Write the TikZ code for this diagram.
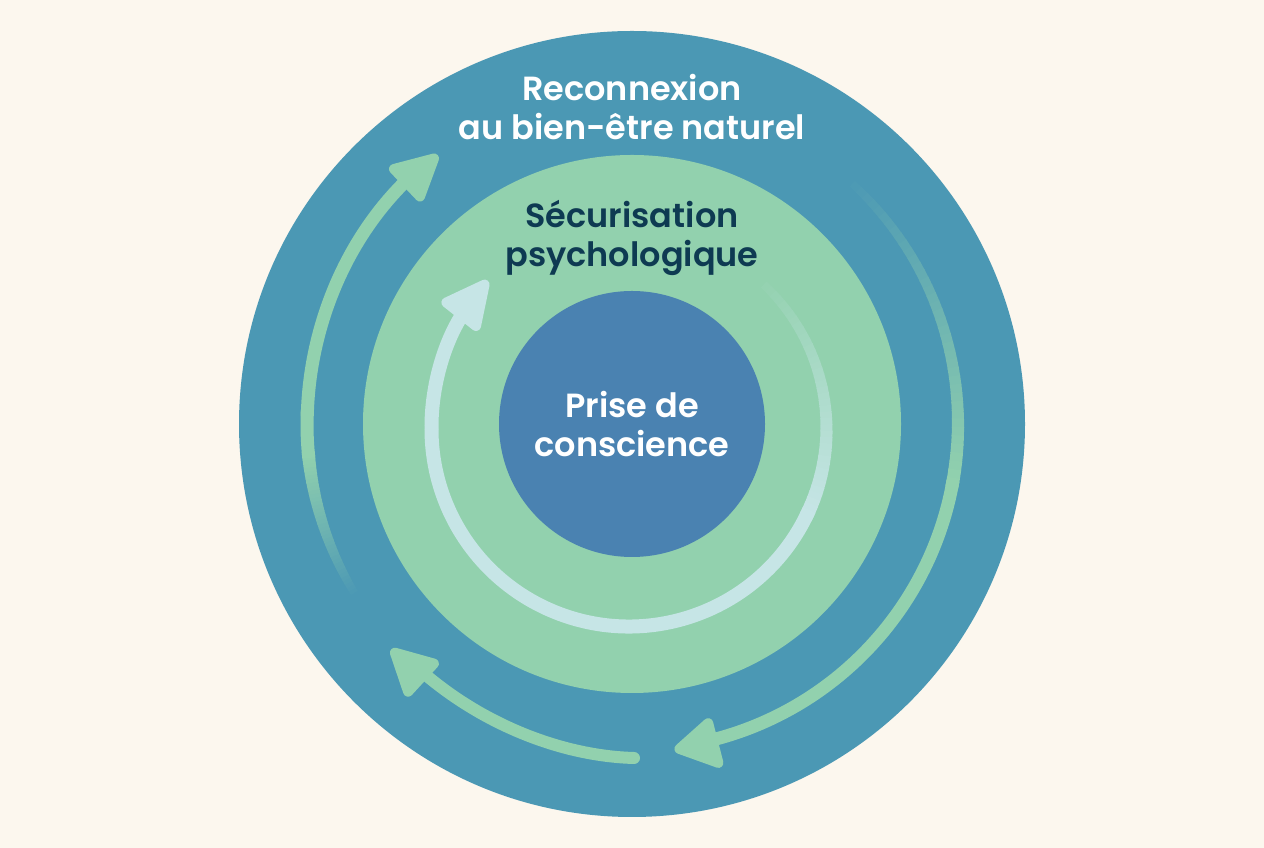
\documentclass[tikz,border=0pt]{standalone}
\usepackage{fontspec}
\setmainfont{Poppins}[BoldFont={Poppins SemiBold}]
\definecolor{bgc}{HTML}{FCF7EE}
\definecolor{outerc}{HTML}{4B98B4}
\definecolor{midc}{HTML}{92D1AE}
\definecolor{innerc}{HTML}{4A82B1}
\definecolor{lightc}{HTML}{C6E5E6}
\definecolor{darkc}{HTML}{0E3A52}
\tikzset{
  disc/.style={circle,minimum size=#1,inner sep=0pt,outer sep=0pt},
  label/.style={font=\bfseries\fontsize{33.5}{39}\selectfont,align=center,text=#1},
  headtip/.style={fill=#1,draw=#1,line width=10pt,line join=round},
}
% \fadearc{centre}{radius}{start}{delta}{width}{from colour}{to colour}{start pct}{end pct}
\newcommand{\fadearc}[9]{%
  \foreach \i in {0,...,39}{%
    \pgfmathsetmacro{\aa}{#3+(#4)*\i/40}%
    \pgfmathsetmacro{\dd}{(#4)/40*1.15}%
    \pgfmathsetmacro{\pp}{#8+(#9-#8)*\i/39}%
    \pgfmathsetmacro{\ww}{#5*(0.6+0.4*\i/39)}%
    \colorlet{segc}{#7!\pp!#6}%
    \draw[shift={(#1)},segc,line width=\ww pt,line cap=butt] (\aa:#2) arc[start angle=\aa,delta angle=\dd,radius=#2];
  }%
}
\begin{document}
\begin{tikzpicture}[x=1pt,y=1pt]
\useasboundingbox (0,0) rectangle (1264,848);
\fill[bgc] (0,0) rectangle (1264,848);
\node[disc=786pt,fill=outerc] (outer) at (632,424) {};
\node[disc=538pt,fill=midc] (mid) at (632,424) {};
\node[disc=266pt,fill=innerc] (inner) at (632,424) {};
\coordinate (co) at (632,424);
\coordinate (ci) at (629,419);
% outer left arc with arrow
\fadearc{co}{325}{212}{-27}{13}{outerc}{midc}{0}{100}
\draw[shift={(co)},midc,line width=13pt] (186:325) arc[start angle=186,delta angle=-8.5,radius=325];
\draw[midc,line width=13pt] (307.3,432) .. controls (309,515) and (342,606) .. (409,670);
\path[headtip=midc] (434,689.5) -- (394,679) -- (420,651.5) -- cycle;
% outer right arc with arrow
\fadearc{co}{326}{49}{-60}{13}{outerc}{midc}{0}{100}
\draw[shift={(co)},midc,line width=13pt] (-10:326) arc[start angle=-10,delta angle=-65,radius=326];
\path[headtip=midc] (679.4,99.1) -- (708.2,124.8) -- (718.4,85.1) -- cycle;
% bottom arrow
\draw[midc,line width=12pt,line cap=round] (634,90) .. controls (560,92) and (480,125) .. (420,178);
\path[headtip=midc] (394.9,195.3) -- (433.9,184.4) -- (408.1,156.3) -- cycle;
% inner arc with arrow
\fadearc{ci}{197.5}{47}{-73}{14}{midc}{lightc}{5}{100}
\draw[shift={(ci)},lightc,line width=14pt] (-25:197.5) arc[start angle=-25,delta angle=-155,radius=197.5];
\draw[lightc,line width=14pt] (431.5,418.5) .. controls (431,463) and (445,508) .. (464,536);
\path[headtip=lightc] (484.6,563.4) -- (446.4,545.5) -- (476,522) -- cycle;
% labels
\node[label=white] (t1) at (632,741) {Reconnexion\\au bien-être naturel};
\node[label=darkc] (t2) at (632,610) {Sécurisation\\psychologique};
\node[label=white] (t3) at (632,424) {Prise de\\conscience};
\end{tikzpicture}
\end{document}
